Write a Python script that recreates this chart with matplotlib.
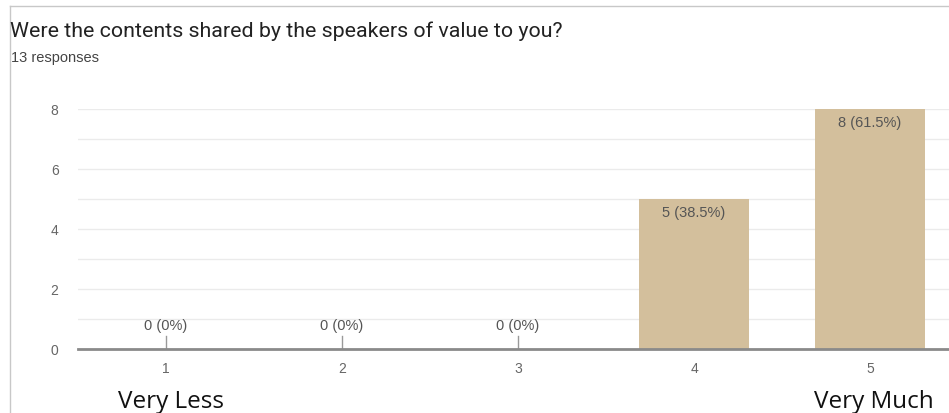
import numpy as np
import matplotlib.pyplot as plt
from matplotlib.lines import Line2D

categories = ['1', '2', '3', '4', '5']
counts = [0, 0, 0, 5, 8]
labels = ['0 (0%)', '0 (0%)', '0 (0%)', '5 (38.5%)', '8 (61.5%)']
title = 'Were the contents shared by the speakers of value to you?'
subtitle = '13 responses'

bar_color = '#d3bf9c'
text_gray = '#555555'

fig = plt.figure(figsize=(9.49, 4.14), dpi=100)
ax = fig.add_axes([78/949, 64/414, 880/949, 240/414])

x = np.arange(1, len(categories) + 1)
ax.bar(x, counts, width=0.62, color=bar_color, zorder=3)

for xi, c, lab in zip(x, counts, labels):
    if c == 0:
        ax.plot([xi, xi], [0, 0.45], color='#999999', lw=1, zorder=3)
        ax.text(xi, 0.55, lab, ha='center', va='bottom', fontsize=10.5,
                color=text_gray, family='Liberation Sans')
    else:
        ax.text(xi, c - 0.2, lab, ha='center', va='top', fontsize=10.5,
                color=text_gray, family='Liberation Sans')

ax.set_xlim(0.5, 5.5)
ax.set_ylim(0, 8)
ax.set_yticks([0, 2, 4, 6, 8])
ax.set_yticks(range(0, 9), minor=True)
ax.set_xticks(x)
ax.set_xticklabels(categories)
ax.grid(axis='y', which='both', color='#ebebeb', lw=1, zorder=0)
for s in ['top', 'right', 'left']:
    ax.spines[s].set_visible(False)
ax.spines['bottom'].set_color('#8a8a8a')
ax.spines['bottom'].set_linewidth(2)
ax.spines['bottom'].set_zorder(4)
ax.tick_params(axis='both', which='both', length=0, labelsize=10,
               labelcolor='#666666')
ax.tick_params(axis='y', pad=14)
ax.tick_params(axis='x', pad=9)
for t in ax.get_xticklabels() + ax.get_yticklabels():
    t.set_family('Liberation Sans')

# card border
fig.add_artist(Line2D([10/949, 10/949], [0, 1 - 7/414], color='#c8c8c8', lw=1))
fig.add_artist(Line2D([10/949, 1], [1 - 7/414, 1 - 7/414], color='#c8c8c8', lw=1))

fig.text(10/949, 1 - 31/414, title, fontsize=15.4, color='#222222',
         family='Roboto', va='center')
fig.text(11/949, 1 - 58/414, subtitle, fontsize=10.5, color='#444444',
         family='Liberation Sans', va='center')
fig.text(171/949, 1 - 402/414, 'Very Less', fontsize=17.5, color='#111111',
         family='Open Sans', ha='center', va='center')
fig.text(874/949, 1 - 402/414, 'Very Much', fontsize=17.5, color='#111111',
         family='Open Sans', ha='center', va='center')

plt.savefig('out.png', dpi=100)
